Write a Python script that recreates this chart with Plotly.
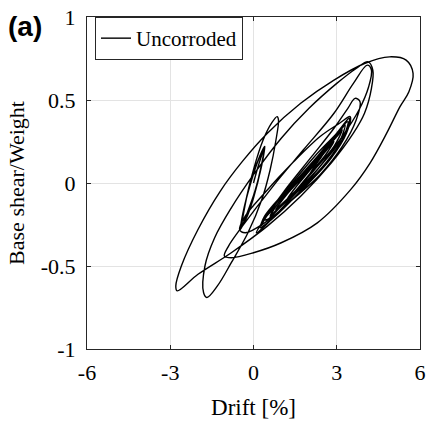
import plotly.graph_objects as go

# Hysteresis path (drift %, base shear / weight)
drift = [
    0, 0.15, 0.3, 0.41,
    0.32, 0.05, -0.25, -0.45,
    -0.36, -0.08, 0.2, 0.38,
    0.3, 0.02, -0.25, -0.42,
    -0.34, -0.05, 0.22, 0.4,
    0.3, 0.0, -0.25, -0.47,
    -0.38, -0.1, 0.18, 0.36,
    0.28, 0.0, -0.28, -0.40,
    -0.3, 0.0, 0.35, 0.65, 0.85, 0.9,
    0.8, 0.6, 0.3, -0.2, -0.8, -1.3, -1.68, -1.8,
    -1.75, -1.4, -0.8, 0.0, 1.0, 2.0, 3.0, 3.7, 4.13, 4.3,
    4.25, 4.0, 3.6, 2.8, 1.7, 0.5, -0.8, -2.0, -2.75, -2.8,
    -2.6, -2.0, -1.2, -0.4, 0.5, 1.7, 2.9, 4.0, 4.9, 5.5, 5.75, 5.6,
    5.28, 4.8, 4.2, 3.5, 2.3, 1.0, 0.0, -0.8, -1.05,
    -0.9, -0.4, 0.7, 1.8, 2.9, 3.6, 4.1, 4.25,
    4.15, 3.8, 3.2, 2.3, 1.2, 0.4, 0.1,
    0.3, 1.1, 2.1, 2.9, 3.4, 3.66, 3.84,
    3.7, 3.2, 2.4, 1.4, 0.4, -0.3, -0.5,
    -0.3, 0.4, 1.4, 2.4, 3.1, 3.48,
    3.35, 2.8, 2.0, 1.2, 0.5, 0.25,
    0.4, 1.2, 2.2, 3.0, 3.45,
    3.3, 2.7, 1.9, 1.1, 0.5, 0.3,
    0.6, 1.4, 2.3, 3.0, 3.4,
    3.25, 2.6, 1.8, 1.0, 0.5, 0.4,
    0.8, 1.6, 2.4, 3.1, 3.3,
    3.1, 2.4, 1.6, 0.9, 0.6,
    0.9, 1.7, 2.5, 3.1, 3.2,
    2.9, 2.2, 1.5, 1.0, 0.8,
    1.2, 1.8, 2.5, 2.9,
    2.6, 2.0, 1.5, 1.2,
    1.5, 2.0, 2.5,
    2.2, 1.8, 1.6,
]
shear = [
    0, 0.09, 0.17, 0.22,
    0.13, -0.05, -0.19, -0.27,
    -0.17, 0.02, 0.15, 0.21,
    0.12, -0.07, -0.2, -0.26,
    -0.16, 0.04, 0.16, 0.22,
    0.11, -0.08, -0.2, -0.28,
    -0.18, 0.0, 0.14, 0.2,
    0.1, -0.09, -0.22, -0.25,
    -0.13, 0.08, 0.26, 0.36, 0.40, 0.38,
    0.25, 0.08, -0.1, -0.3, -0.48, -0.62, -0.69, -0.66,
    -0.5, -0.33, -0.15, 0.05, 0.27, 0.45, 0.6, 0.69, 0.73, 0.68,
    0.57, 0.42, 0.3, 0.12, -0.08, -0.26, -0.42, -0.55, -0.65, -0.62,
    -0.5, -0.28, -0.05, 0.13, 0.3, 0.48, 0.62, 0.72, 0.76, 0.74, 0.66, 0.55,
    0.46, 0.3, 0.12, -0.04, -0.24, -0.36, -0.42, -0.45, -0.44,
    -0.38, -0.26, -0.02, 0.2, 0.42, 0.6, 0.71, 0.68,
    0.58, 0.44, 0.28, 0.08, -0.12, -0.26, -0.3,
    -0.24, -0.05, 0.16, 0.33, 0.45, 0.51, 0.49,
    0.38, 0.22, 0.05, -0.1, -0.24, -0.3, -0.28,
    -0.2, -0.06, 0.12, 0.28, 0.36, 0.40,
    0.3, 0.15, 0.0, -0.13, -0.24, -0.27,
    -0.2, -0.04, 0.16, 0.3, 0.39,
    0.29, 0.14, -0.01, -0.15, -0.24, -0.26,
    -0.17, -0.01, 0.16, 0.3, 0.37,
    0.28, 0.12, -0.02, -0.14, -0.22, -0.22,
    -0.14, 0.02, 0.17, 0.31, 0.35,
    0.25, 0.1, -0.04, -0.15, -0.2,
    -0.12, 0.03, 0.18, 0.3, 0.32,
    0.22, 0.08, -0.05, -0.13, -0.16,
    -0.07, 0.04, 0.17, 0.25,
    0.17, 0.05, -0.05, -0.1,
    -0.03, 0.07, 0.17,
    0.1, 0.0, -0.03,
]

x_tickvals = [-6, -3, 0, 3, 6]
x_ticktext = ["-6", "-3", "0", "3", "6"]
y_tickvals = [-1, -0.5, 0, 0.5, 1]
y_ticktext = ["-1", "-0.5", "0", "0.5", "1"]
series_name = "Uncorroded"

serif = "Liberation Serif, Times New Roman, serif"

fig = go.Figure()
fig.add_trace(go.Scatter(
    x=drift, y=shear, mode="lines", name=series_name,
    line=dict(color="black", width=1.4, shape="spline", smoothing=1.0),
    showlegend=True,
))

axis_common = dict(
    showgrid=True, gridcolor="#e3e3e3", gridwidth=1,
    showline=True, linecolor="#262626", linewidth=1, mirror="ticks",
    ticks="inside", ticklen=4, tickcolor="#262626",
    zeroline=False, automargin=False, ticklabeloverflow="allow",
    tickfont=dict(family=serif, size=22, color="black"),
)

fig.update_layout(
    width=427, height=426,
    margin=dict(l=87, r=7, t=17, b=77),
    paper_bgcolor="white", plot_bgcolor="white",
    xaxis=dict(range=[-6, 6], tickvals=x_tickvals, ticktext=x_ticktext,
               ticklabelstandoff=4,
               title=dict(text="Drift [%]", font=dict(family=serif, size=23, color="black"), standoff=14),
               **axis_common),
    yaxis=dict(range=[-1, 1], tickvals=y_tickvals, ticktext=y_ticktext,
               ticklabelstandoff=6,
               title=dict(text="Base shear/Weight", font=dict(family=serif, size=22, color="black"), standoff=10),
               **axis_common),
    legend=dict(x=0.024, y=1.0, xanchor="left", yanchor="top",
                bgcolor="white", bordercolor="#262626", borderwidth=1,
                font=dict(family=serif, size=21, color="black"),
                itemwidth=30, tracegroupgap=0),
    annotations=[dict(text="<b>(a)</b>", x=0, y=1, xref="paper", yref="paper",
                      xanchor="left", yanchor="top", showarrow=False,
                      font=dict(family="Liberation Sans, Arial, sans-serif", size=28, color="black"),
                      xshift=-81, yshift=8)],
)

# remove the default page margin so the figure fills the 427x426 window
fig.write_html("out.html", config={"displayModeBar": False},
               post_script="document.body.style.margin='0';")
